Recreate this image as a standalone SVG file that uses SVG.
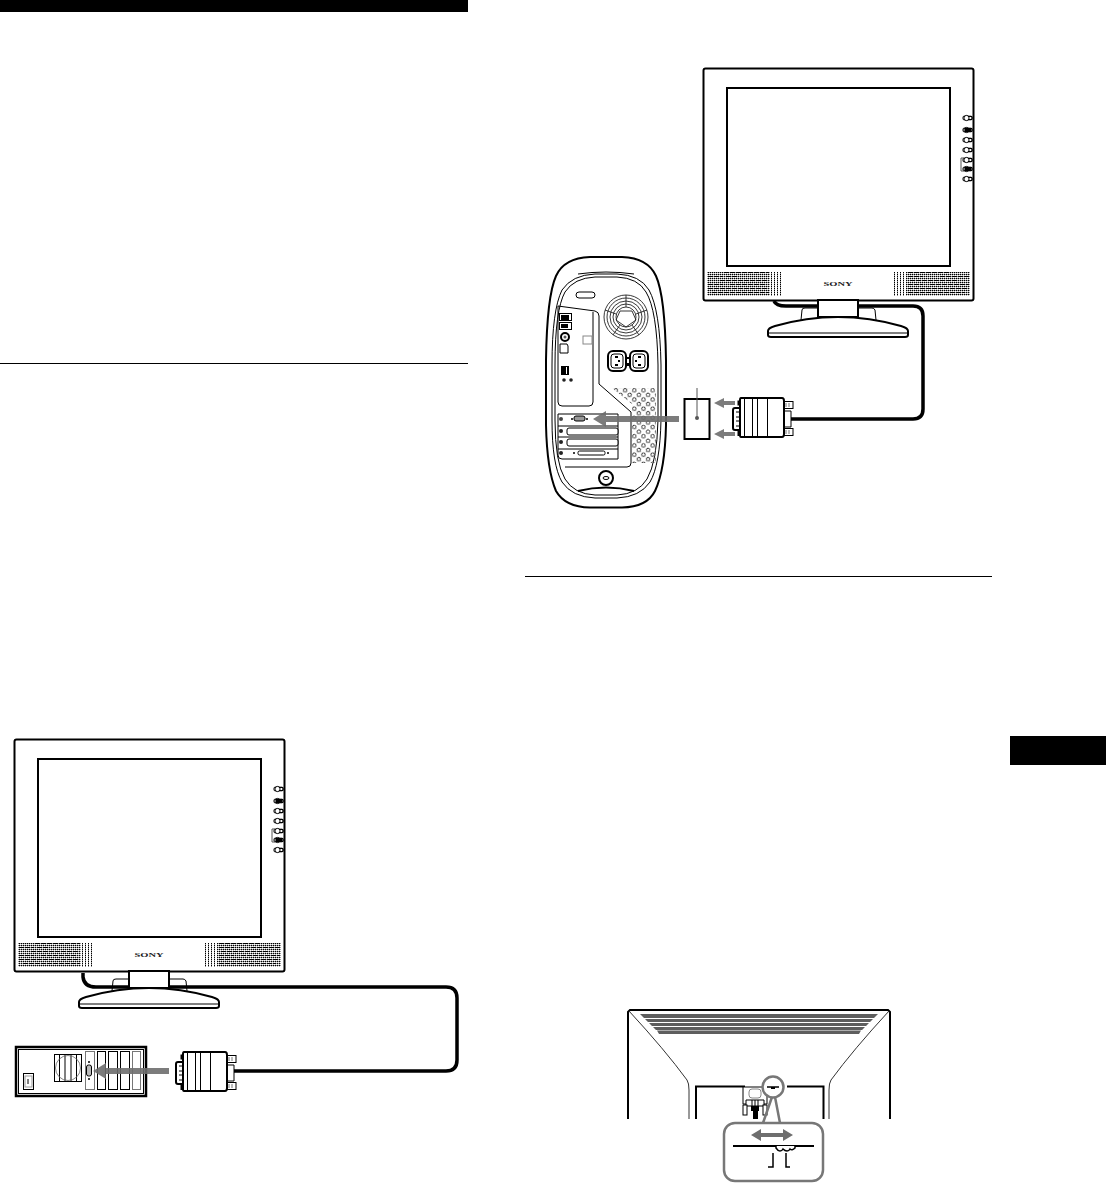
<svg xmlns="http://www.w3.org/2000/svg" width="1106" height="1183" viewBox="0 0 1106 1183">
<style>
.k{fill:none;stroke:#000;stroke-width:1}
.k2{fill:none;stroke:#000;stroke-width:2}
.w{fill:#fff;stroke:#000;stroke-width:1}
.w2{fill:#fff;stroke:#000;stroke-width:2}
.cable{fill:none;stroke:#000;stroke-width:3.5}
.g{fill:none;stroke:#777;stroke-width:1}
.ga{fill:#6e6e6e}
.lens{fill:none;stroke:#777;stroke-width:2.5}
.sony{font-family:"Liberation Serif",serif;font-weight:bold;font-size:7px;fill:#222}
</style>
<defs>
<pattern id="dots" width="2" height="2" patternUnits="userSpaceOnUse"><rect width="1" height="1" fill="#000"/><rect x="1" width="1" height="1" fill="#000" opacity=".4"/><rect y="1" width="1" height="1" fill="#000" opacity=".25"/></pattern>
<pattern id="dotsv" width="3" height="2" patternUnits="userSpaceOnUse"><rect width="1" height="1" fill="#000"/><rect y="1" width="1" height="1" fill="#000" opacity=".4"/></pattern>
<pattern id="holes" width="6.500" height="6.500" patternUnits="userSpaceOnUse" patternTransform="rotate(45 0 0)"><circle cx="3" cy="3" r="1.800" fill="#fff" stroke="#222" stroke-width=".9"/></pattern>
<g id="btn"><rect x="-4" y="-1.800" width="9" height="3.600" rx="1" fill="#fff" stroke="#000"/><circle cx="-.5" cy="0" r="2.600" fill="#fff" stroke="#000"/><path d="M1 -1.500H5V1.500H1" fill="none" stroke="#000"/></g>
<g id="monitor">
<rect x="703.500" y="68.500" width="270" height="232" rx="2" class="w2"/>
<rect x="727" y="88" width="223" height="178" fill="#fff" stroke="#000" stroke-width="2"/>
<rect x="707" y="272" width="63" height="24" fill="url(#dots)"/>
<rect x="770" y="272" width="12" height="24" fill="url(#dotsv)"/>
<path d="M708 276.500H722M726 276.500H736M720 280.500H766M708 284.500H722M730 284.500H766M708 288.500H768M712 292.500H768M724 272.500H768" stroke="#000" stroke-width="1" stroke-dasharray="5 1"/>
<rect x="906" y="272" width="64" height="24" fill="url(#dots)"/>
<rect x="894" y="272" width="12" height="24" fill="url(#dotsv)"/>
<path d="M908 276.500H922M940 276.500H968M910 280.500H956M908 284.500H922M930 284.500H968M908 288.500H968M908 292.500H964M908 272.500H950" stroke="#000" stroke-width="1" stroke-dasharray="5 1"/>
<text class="sony" x="838" y="285.500" text-anchor="middle" textLength="29" lengthAdjust="spacingAndGlyphs">SONY</text>
<use href="#btn" x="967" y="118"/><use href="#btn" x="967" y="130"/><use href="#btn" x="967" y="140"/><use href="#btn" x="967" y="150"/><use href="#btn" x="967" y="160"/><use href="#btn" x="967" y="169"/><use href="#btn" x="967" y="179"/>
<rect x="965" y="128" width="6" height="4" fill="#000"/><rect x="965" y="167" width="6" height="4" fill="#000"/>
<path d="M964 158H961V171H964" fill="none" stroke="#555"/>
<path d="M801 320L802 310Q802 308 805 308H818M858 308H872Q874 308 875 310L876 320" class="k"/>
<path d="M768 331Q768 328 775 326Q838 308 901 326Q908 328 908 331V335Q908 337 905 337H771Q768 337 768 335Z" class="w2"/>
<path d="M769 333H907" class="k"/>
<rect x="818" y="300" width="40" height="17" class="w2"/>
</g>
<g id="vga">
<rect x="784" y="401.500" width="9" height="7" class="w"/><rect x="784" y="428.500" width="9" height="7" class="w"/>
<path d="M786 403V407M789 403V407M786 430V434M789 430V434" stroke="#777" fill="none"/>
<path d="M784 411H791V427H784" class="w"/>
<rect x="737.500" y="400.500" width="3" height="5" fill="#000"/><rect x="737.500" y="431" width="3" height="5" fill="#000"/>
<path d="M740 408H735Q733 408 733 410V428Q733 430 735 430H740Z" class="w2"/>
<path d="M736 412H740V426H736M736 417H740M736 421H740" class="k"/>
<path d="M741 398H782Q784 398 784 401V434Q784 437 782 437H741Q740 437 740 435V400Q740 398 741 398Z" class="w2"/>
<path d="M744.500 399V436M752.500 399V436M757.500 399V436M767.500 399V436" class="k"/>
</g>
</defs>

<rect x="0" y="0" width="468" height="12" fill="#000"/>
<rect x="0" y="363" width="468" height="1" fill="#000"/>
<rect x="525" y="576" width="467" height="1" fill="#000"/>
<rect x="1010" y="736" width="96" height="29" fill="#000"/>

<g id="connectors">
<path class="cable" d="M774 301Q776 306 786 306H913Q923 306 923 316V409Q923 419 913 419H791"/>
<path class="cable" d="M83 973V977Q84 987 96 987H446Q457 987 457 998V1060Q457 1071 446 1071H234"/>
</g>

<g id="monitor-top"><use href="#monitor"/></g>
<g id="monitor-bottom"><use href="#monitor" x="-689" y="671"/></g>

<g id="mac-tower">
<path class="w2" d="M590 257H622Q648 258 656 276Q665 296 666 360V425Q665 470 655 491Q647 507 622 507.500H590Q565 507 556 491Q547 470 546 425V360Q547 296 556 276Q564 258 590 257Z"/>
<path class="k" d="M595 274H617Q640 275 649 290Q660 310 661 365V420Q660 465 650 482Q640 497 617 498H595Q572 497 562 482Q552 465 552 420V365Q552 310 562 290Q572 275 595 274Z"/>
<path class="k" d="M595 277H617Q638 278 646 292Q657 310 658 365V420Q657 462 647 479Q638 494 617 495H595Q574 494 565 479Q555 462 555 420V365Q555 310 565 292Q574 278 595 277Z"/>
<path d="M578 274Q606 270 634 274" class="k"/>
<path d="M578 491Q606 484 634 491" class="k2"/>
<rect x="576" y="292" width="19" height="6" rx="3" class="k"/>
<path class="k" d="M558 306L595 311Q599 312 599 316V384L631 412V463Q631 467 627 467H565"/>
<path class="k" d="M558 306V402Q558 406 562 406H589Q593 406 593 402V312"/>
<rect x="583" y="336" width="9" height="8" fill="#fff" stroke="#888"/>
<g fill="none" stroke="#222" stroke-width=".9"><circle cx="626" cy="317" r="22"/><circle cx="626" cy="317" r="19"/><circle cx="626" cy="317" r="16"/><circle cx="626" cy="317" r="13"/><circle cx="626" cy="317" r="10"/>
<path d="M626 295V307M647 310L636 314M639 335L632 325M613 335L620 325M605 310L616 314M620 311H632L636 320L626 327L616 320Z"/></g>
<rect x="608" y="351" width="18" height="20" rx="5" class="w2"/><rect x="630" y="351" width="18" height="20" rx="5" class="w2"/>
<rect x="611" y="354" width="12" height="14" rx="3" class="k"/><rect x="633" y="354" width="12" height="14" rx="3" class="k"/>
<path d="M615 357H618M615 365H618M619 360V362M641 357H638M641 365H638M636 360V362" class="k2"/>
<rect x="625" y="357" width="6" height="9" fill="#000"/><rect x="627" y="359" width="2" height="4" fill="#fff"/>
<rect x="559.500" y="313.500" width="12" height="7" class="w"/><rect x="561" y="315" width="8" height="5" fill="#000"/>
<rect x="559.500" y="322.500" width="12" height="7" class="w"/><rect x="561" y="324" width="7" height="4" fill="#000"/>
<circle cx="565" cy="337" r="4" class="k2"/><circle cx="565" cy="337" r="1.500" fill="#555"/>
<path d="M560 344H567L568 346V353H560Z" class="w"/>
<rect x="561" y="366" width="8" height="9" fill="#000"/><rect x="566" y="367" width="1" height="7" fill="#fff"/>
<circle cx="564" cy="380" r="1.800" fill="#222"/><circle cx="571" cy="380" r="1.800" fill="#222"/>
<path d="M612 388L632 404V463H636L656 463V388Z" fill="url(#holes)"/>
<path d="M558 414H618V459H562Q558 459 558 455Z" class="w"/>
<path d="M558 426H618M558 437H618M558 449H618" class="k"/>
<rect x="567" y="428" width="51" height="7" rx="2" class="w"/><rect x="567" y="439" width="51" height="7" rx="2" class="w"/>
<rect x="578" y="451" width="27" height="4" rx="1.500" class="w"/>
<circle cx="574" cy="453" r="1" fill="#000"/><circle cx="608" cy="453" r="1" fill="#000"/>
<circle cx="561" cy="419" r="2" fill="#444"/><circle cx="561" cy="431" r="2" fill="#222"/><circle cx="561" cy="442" r="2" fill="#222"/><circle cx="561" cy="453" r="2" fill="#222"/>
<rect x="574" y="416" width="11" height="5" rx="2" fill="#999" stroke="#000"/>
<circle cx="572" cy="419" r="1" fill="#000"/><circle cx="587" cy="419" r="1" fill="#000"/>
<circle cx="606" cy="478" r="7" class="k2"/><ellipse cx="606" cy="478" rx="3" ry="1.500" class="k"/>
</g>

<g id="adapter-label"><rect x="684.500" y="399" width="25" height="40" fill="#fff" stroke="#000" stroke-width="2"/>
<path d="M697 388V418" stroke="#555" stroke-width="1" fill="none"/><circle cx="697" cy="418" r="2" fill="#555"/></g>
<g id="connector-a"><use href="#vga"/></g>
<g id="connector-b"><use href="#vga" x="-557" y="654"/></g>

<g id="arrow-mac" opacity=".9">
<path class="ga" d="M593 419L606 411V416H679V422H606V427Z"/>
<path class="ga" d="M714 403L724 398V401H735V405H724V408Z"/>
<path class="ga" d="M714 434L724 429V432H735V436H724V439Z"/>
</g>

<g id="pc">
<rect x="16" y="1047" width="130" height="49" fill="#fff" stroke="#000" stroke-width="2.500"/>
<rect x="18.500" y="1049.500" width="125" height="44" class="k"/>
<rect x="54.500" y="1054.500" width="27" height="27" class="k"/>
<path d="M59.500 1054V1082M65 1054V1082M71 1054V1082M76.500 1054V1082" class="k"/>
<circle cx="68" cy="1068" r="12.500" fill="none" stroke="#666" stroke-width=".8"/>
<rect x="23.500" y="1073.500" width="10" height="16" fill="#fff" stroke="#000"/><rect x="25" y="1076" width="7" height="11" fill="#fff" stroke="#999"/><path d="M28 1079V1084" stroke="#000"/>
<rect x="85.500" y="1051.500" width="9" height="38" class="g"/>
<rect x="97.500" y="1051.500" width="8" height="38" class="k"/>
<rect x="108.500" y="1051.500" width="9" height="38" class="k"/>
<rect x="120.500" y="1051.500" width="9" height="38" class="k"/>
<rect x="132.500" y="1051.500" width="8" height="38" class="g"/>
<rect x="86.500" y="1065" width="5" height="11" rx="2" fill="#bbb" stroke="#000"/>
<circle cx="89" cy="1062" r="1" fill="#000"/><circle cx="89" cy="1079" r="1" fill="#000"/>
</g>
<g id="arrow-pc" opacity=".9"><path class="ga" d="M93 1071L106 1063V1068H169V1074H106V1079Z"/></g>

<g id="monitor-rear">
<path d="M628 1119V1012L630 1010H888L890 1012V1119" class="k2"/>
<path d="M629 1011Q665 1050 687 1080Q689 1083 689 1090V1119M889 1011Q853 1050 831 1080Q829 1083 829 1090V1119" fill="none" stroke="#333" stroke-width="1"/>
<path fill="#5e5e5e" d="M640 1014H878L874 1018H644ZM645 1019H873L870 1022H648ZM649 1023H869L866 1026H652ZM653 1027H865L862 1030H656ZM657 1030.500H861L859 1034H659Z"/>
<path d="M696 1119V1086.500H745M787 1086.500H823.500V1119" class="k2"/>
<path d="M743 1087H767V1104H743Z" class="w"/>
<rect x="749" y="1089" width="12" height="9" rx="3" fill="#fff" stroke="#888"/>
<path d="M746 1100H764V1106H746Z" class="w"/><path d="M752 1100V1106M755 1100V1106M758 1100V1106" class="k"/>
<rect x="743" y="1105" width="4" height="10" class="w"/><rect x="763" y="1105" width="4" height="10" class="w"/>
<rect x="751" y="1106" width="8" height="5" fill="#000"/><rect x="753" y="1110" width="5" height="9" fill="#000"/>
</g>
<g id="lens">
<rect x="724" y="1123" width="99" height="58" rx="11" fill="#fff" stroke="#777" stroke-width="2.500"/>
<path class="lens" d="M772 1097L763 1123M775 1097L780 1123"/>
<circle cx="773" cy="1087" r="10.500" fill="#fff" stroke="#777" stroke-width="2.500"/>
<path d="M767 1087H779" stroke="#000" stroke-width="1.500"/><path d="M771 1088H775" stroke="#000" stroke-width="2"/>
<path class="ga" d="M751 1135L761 1129V1133H783V1129L793 1135L783 1141V1137H761V1141Z"/>
<path d="M733 1146H814" stroke="#000" stroke-width="2"/>
<path d="M776 1146V1148Q778 1151 780 1151Q782 1151 783 1149Q785 1151 787 1151Q789 1151 790 1149Q792 1151 795 1148V1146" fill="#fff" stroke="#000" stroke-width="1.500"/>
<path d="M773 1153V1167H768M786 1153V1167H790" fill="none" stroke="#000" stroke-width="1.500"/>
</g>
</svg>
